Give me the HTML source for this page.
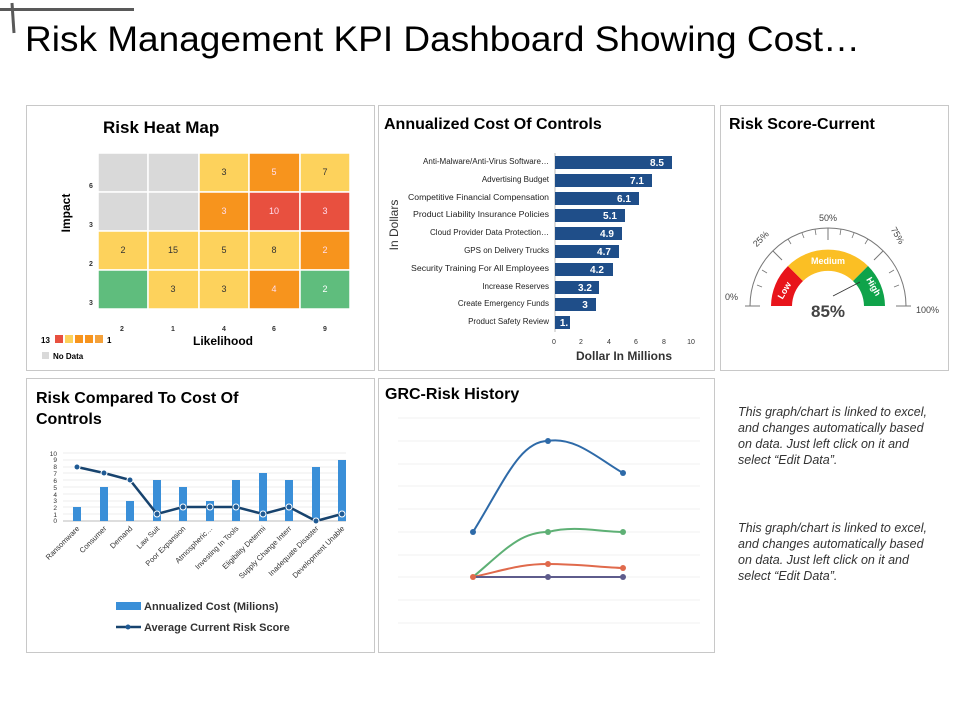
<!DOCTYPE html>
<html><head><meta charset="utf-8"><style>
body{margin:0;background:#fff}
svg{display:block;font-family:"Liberation Sans",Arial,sans-serif}
</style></head><body>
<svg width="960" height="720" viewBox="0 0 960 720" xmlns="http://www.w3.org/2000/svg">
<rect width="960" height="720" fill="#fff"/>
<line x1="0" y1="9.5" x2="134" y2="9.5" stroke="#595959" stroke-width="3"/>
<line x1="12" y1="3" x2="14" y2="33" stroke="#595959" stroke-width="3"/>
<text x="25" y="51" font-size="35" fill="#000" textLength="835" lengthAdjust="spacingAndGlyphs">Risk Management KPI Dashboard Showing Cost…</text>

<g fill="none" stroke="#c8c8c8" stroke-width="1">
<rect x="26.5" y="105.5" width="348" height="265"/>
<rect x="378.5" y="105.5" width="336" height="265"/>
<rect x="720.5" y="105.5" width="228" height="265"/>
<rect x="26.5" y="378.5" width="348" height="274"/>
<rect x="378.5" y="378.5" width="336" height="274"/>
</g>

<!-- Heat map -->
<text x="103" y="133" font-size="17" font-weight="bold">Risk Heat Map</text>
<g stroke="#fff" stroke-width="1.5">
<rect x="98" y="153" width="50" height="39" fill="#d9d9d9"/>
<rect x="148" y="153" width="51" height="39" fill="#d9d9d9"/>
<rect x="199" y="153" width="50" height="39" fill="#fdd25c"/>
<rect x="249" y="153" width="51" height="39" fill="#f7941d"/>
<rect x="300" y="153" width="50" height="39" fill="#fdd25c"/>
<rect x="98" y="192" width="50" height="39" fill="#d9d9d9"/>
<rect x="148" y="192" width="51" height="39" fill="#d9d9d9"/>
<rect x="199" y="192" width="50" height="39" fill="#f7941d"/>
<rect x="249" y="192" width="51" height="39" fill="#e8503f"/>
<rect x="300" y="192" width="50" height="39" fill="#e8503f"/>
<rect x="98" y="231" width="50" height="39" fill="#fdd25c"/>
<rect x="148" y="231" width="51" height="39" fill="#fdd25c"/>
<rect x="199" y="231" width="50" height="39" fill="#fdd25c"/>
<rect x="249" y="231" width="51" height="39" fill="#fdd25c"/>
<rect x="300" y="231" width="50" height="39" fill="#f7941d"/>
<rect x="98" y="270" width="50" height="39" fill="#5fbd7d"/>
<rect x="148" y="270" width="51" height="39" fill="#fdd25c"/>
<rect x="199" y="270" width="50" height="39" fill="#fdd25c"/>
<rect x="249" y="270" width="51" height="39" fill="#f7941d"/>
<rect x="300" y="270" width="50" height="39" fill="#5fbd7d"/>
</g>
<g font-size="9" text-anchor="middle">
<text x="224" y="175" fill="#333">3</text><text x="274" y="175" fill="#fde">5</text><text x="325" y="175" fill="#333">7</text>
<text x="224" y="214" fill="#fde">3</text><text x="274" y="214" fill="#fde">10</text><text x="325" y="214" fill="#fde">3</text>
<text x="123" y="253" fill="#333">2</text><text x="173" y="253" fill="#333">15</text><text x="224" y="253" fill="#333">5</text><text x="274" y="253" fill="#333">8</text><text x="325" y="253" fill="#fde">2</text>
<text x="173" y="292" fill="#333">3</text><text x="224" y="292" fill="#333">3</text><text x="274" y="292" fill="#fde">4</text><text x="325" y="292" fill="#fff">2</text>
</g>
<g font-size="7" font-weight="bold" text-anchor="middle" fill="#333">
<text x="91" y="188">6</text><text x="91" y="227">3</text><text x="91" y="266">2</text><text x="91" y="305">3</text>
<text x="122" y="331">2</text><text x="173" y="331">1</text><text x="224" y="331">4</text><text x="274" y="331">6</text><text x="325" y="331">9</text>
</g>
<text transform="translate(70,213) rotate(-90)" font-size="12" font-weight="bold" text-anchor="middle">Impact</text>
<text x="223" y="345" font-size="12" font-weight="bold" text-anchor="middle">Likelihood</text>
<text x="41" y="343" font-size="8" font-weight="bold">13</text>
<rect x="55" y="335" width="8" height="8" fill="#e8503f"/>
<rect x="65" y="335" width="8" height="8" fill="#fdd25c"/>
<rect x="75" y="335" width="8" height="8" fill="#f7941d"/>
<rect x="85" y="335" width="8" height="8" fill="#f7941d"/>
<rect x="95" y="335" width="8" height="8" fill="#f4a13a"/>
<text x="107" y="343" font-size="8" font-weight="bold">1</text>
<rect x="42" y="352" width="7" height="7" fill="#d9d9d9"/>
<text x="53" y="359" font-size="8" font-weight="bold">No Data</text>

<!-- Annualized cost -->
<text x="384" y="129" font-size="16" font-weight="bold">Annualized Cost Of Controls</text>
<text transform="translate(398,225) rotate(-90)" font-size="12" text-anchor="middle" fill="#333">In Dollars</text>
<line x1="555" y1="153" x2="555" y2="332" stroke="#bbb"/>
<g fill="#1f4e89">
<rect x="555" y="156" width="117" height="13"/>
<rect x="555" y="174" width="97" height="13"/>
<rect x="555" y="192" width="84" height="13"/>
<rect x="555" y="209" width="70" height="13"/>
<rect x="555" y="227" width="67" height="13"/>
<rect x="555" y="245" width="64" height="13"/>
<rect x="555" y="263" width="58" height="13"/>
<rect x="555" y="281" width="44" height="13"/>
<rect x="555" y="298" width="41" height="13"/>
<rect x="555" y="316" width="15" height="13"/>
</g>
<g font-size="10" font-weight="bold" fill="#fff" text-anchor="middle">
<text x="657" y="166">8.5</text><text x="637" y="184">7.1</text><text x="624" y="202">6.1</text><text x="610" y="219">5.1</text><text x="607" y="237">4.9</text><text x="604" y="255">4.7</text><text x="597" y="273">4.2</text><text x="585" y="291">3.2</text><text x="585" y="308">3</text><text x="564" y="326">1.</text>
</g>
<g font-size="8" fill="#222" text-anchor="end">
<text x="549" y="164" textLength="126" lengthAdjust="spacingAndGlyphs">Anti-Malware/Anti-Virus Software…</text>
<text x="549" y="182">Advertising Budget</text>
<text x="549" y="200" textLength="141" lengthAdjust="spacingAndGlyphs">Competitive Financial Compensation</text>
<text x="549" y="217" textLength="136" lengthAdjust="spacingAndGlyphs">Product Liability Insurance Policies</text>
<text x="549" y="235" textLength="119" lengthAdjust="spacingAndGlyphs">Cloud Provider Data Protection…</text>
<text x="549" y="253">GPS on Delivery Trucks</text>
<text x="549" y="271" textLength="138" lengthAdjust="spacingAndGlyphs">Security Training For All Employees</text>
<text x="549" y="289">Increase Reserves</text>
<text x="549" y="306">Create Emergency Funds</text>
<text x="549" y="324">Product Safety Review</text>
</g>
<g font-size="7" fill="#333" text-anchor="middle">
<text x="554" y="344">0</text><text x="581" y="344">2</text><text x="609" y="344">4</text><text x="636" y="344">6</text><text x="664" y="344">8</text><text x="691" y="344">10</text>
</g>
<text x="624" y="360" font-size="12" font-weight="bold" fill="#333" text-anchor="middle">Dollar In Millions</text>

<!-- Gauge -->
<text x="729" y="129" font-size="16" font-weight="bold">Risk Score-Current</text>
<path d="M750,306 A78,78 0 0 1 906,306" fill="none" stroke="#777" stroke-width="1"/>
<g stroke="#777" stroke-width="1">
<line x1="745" y1="306" x2="760" y2="306"/>
<line x1="896" y1="306" x2="911" y2="306"/>
<line x1="828" y1="228" x2="828" y2="240"/>
<line x1="773" y1="251" x2="782" y2="260"/>
<line x1="883" y1="251" x2="874" y2="260"/>
</g>
<g stroke="#777" stroke-width="0.8">
<line x1="757" y1="285" x2="762" y2="287"/>
<line x1="762" y1="270" x2="767" y2="273"/>
<line x1="788" y1="239" x2="791" y2="244"/>
<line x1="802" y1="233" x2="804" y2="238"/>
<line x1="815" y1="229" x2="816" y2="235"/>
<line x1="841" y1="229" x2="840" y2="235"/>
<line x1="854" y1="233" x2="852" y2="238"/>
<line x1="868" y1="239" x2="865" y2="244"/>
<line x1="894" y1="270" x2="889" y2="273"/>
<line x1="899" y1="285" x2="894" y2="287"/>
</g>
<path d="M771,306 A57,57 0 0 1 788,266 L803,281 A36,36 0 0 0 792,306 Z" fill="#e8141b"/>
<path d="M788,266 A57,57 0 0 1 868,266 L853,281 A36,36 0 0 0 803,281 Z" fill="#fbbf24"/>
<path d="M868,266 A57,57 0 0 1 885,306 L864,306 A36,36 0 0 0 853,281 Z" fill="#0fa34a"/>
<text transform="translate(787,292) rotate(-60)" font-size="9" font-weight="bold" fill="#fff" text-anchor="middle">Low</text>
<text x="828" y="264" font-size="9" font-weight="bold" fill="#fff" text-anchor="middle">Medium</text>
<text transform="translate(871,288) rotate(60)" font-size="9" font-weight="bold" fill="#fff" text-anchor="middle">High</text>
<line x1="833" y1="296" x2="860" y2="282" stroke="#333" stroke-width="0.8"/>
<text x="828" y="317" font-size="17" font-weight="bold" fill="#444" text-anchor="middle">85%</text>
<g font-size="9" fill="#444">
<text x="725" y="300">0%</text>
<text x="916" y="313">100%</text>
<text x="828" y="221" text-anchor="middle">50%</text>
<text transform="translate(763,241) rotate(-45)" text-anchor="middle">25%</text>
<text transform="translate(895,237) rotate(60)" text-anchor="middle">75%</text>
</g>

<!-- Risk compared -->
<text x="36" y="403" font-size="16" font-weight="bold">Risk Compared To Cost Of</text>
<text x="36" y="424" font-size="16" font-weight="bold">Controls</text>
<g stroke="#e6e6e6" stroke-width="0.7">
<line x1="63" y1="453" x2="346" y2="453"/><line x1="63" y1="460" x2="346" y2="460"/><line x1="63" y1="467" x2="346" y2="467"/><line x1="63" y1="473" x2="346" y2="473"/><line x1="63" y1="480" x2="346" y2="480"/><line x1="63" y1="487" x2="346" y2="487"/><line x1="63" y1="494" x2="346" y2="494"/><line x1="63" y1="501" x2="346" y2="501"/><line x1="63" y1="507" x2="346" y2="507"/><line x1="63" y1="514" x2="346" y2="514"/>
</g>
<line x1="63" y1="521" x2="346" y2="521" stroke="#bbb"/>
<g font-size="6.5" fill="#333" text-anchor="end">
<text x="57" y="456">10</text><text x="57" y="462">9</text><text x="57" y="469">8</text><text x="57" y="476">7</text><text x="57" y="483">6</text><text x="57" y="490">5</text><text x="57" y="497">4</text><text x="57" y="503">3</text><text x="57" y="510">2</text><text x="57" y="517">1</text><text x="57" y="523">0</text>
</g>
<g fill="#3a8fd8">
<rect x="73" y="507" width="8" height="14"/>
<rect x="100" y="487" width="8" height="34"/>
<rect x="126" y="501" width="8" height="20"/>
<rect x="153" y="480" width="8" height="41"/>
<rect x="179" y="487" width="8" height="34"/>
<rect x="206" y="501" width="8" height="20"/>
<rect x="232" y="480" width="8" height="41"/>
<rect x="259" y="473" width="8" height="48"/>
<rect x="285" y="480" width="8" height="41"/>
<rect x="312" y="467" width="8" height="54"/>
<rect x="338" y="460" width="8" height="61"/>
</g>
<polyline points="77,467 104,473 130,480 157,514 183,507 210,507 236,507 263,514 289,507 316,521 342,514" fill="none" stroke="#17436e" stroke-width="2.5"/>
<g fill="#1f5a94" stroke="#fff" stroke-width="1">
<circle cx="77" cy="467" r="3"/><circle cx="104" cy="473" r="3"/><circle cx="130" cy="480" r="3"/><circle cx="157" cy="514" r="3"/><circle cx="183" cy="507" r="3"/><circle cx="210" cy="507" r="3"/><circle cx="236" cy="507" r="3"/><circle cx="263" cy="514" r="3"/><circle cx="289" cy="507" r="3"/><circle cx="316" cy="521" r="3"/><circle cx="342" cy="514" r="3"/>
</g>
<g font-size="7.5" fill="#333" text-anchor="end">
<text transform="translate(80,529) rotate(-45)">Ransomware</text>
<text transform="translate(107,529) rotate(-45)">Consumer</text>
<text transform="translate(133,529) rotate(-45)">Demand</text>
<text transform="translate(160,529) rotate(-45)">Law Suit</text>
<text transform="translate(186,529) rotate(-45)">Poor Expansion</text>
<text transform="translate(213,529) rotate(-45)">Atmospheric…</text>
<text transform="translate(239,529) rotate(-45)">Investing In Tools</text>
<text transform="translate(266,529) rotate(-45)">Eligibility Determi</text>
<text transform="translate(292,529) rotate(-45)">Supply Change Interr</text>
<text transform="translate(319,529) rotate(-45)">Inadequate Disaster</text>
<text transform="translate(345,529) rotate(-45)">Development Unable</text>
</g>
<rect x="116" y="602" width="25" height="8" fill="#3a8fd8"/>
<text x="144" y="610" font-size="11" font-weight="bold" fill="#333">Annualized Cost (Milions)</text>
<line x1="116" y1="627" x2="141" y2="627" stroke="#17436e" stroke-width="2.5"/>
<circle cx="128" cy="627" r="2.5" fill="#1f5a94"/>
<text x="144" y="631" font-size="11" font-weight="bold" fill="#333">Average Current Risk Score</text>

<!-- GRC -->
<text x="385" y="399" font-size="16" font-weight="bold">GRC-Risk History</text>
<g stroke="#ececec" stroke-width="0.8">
<line x1="398" y1="418" x2="700" y2="418"/><line x1="398" y1="441" x2="700" y2="441"/><line x1="398" y1="464" x2="700" y2="464"/><line x1="398" y1="486" x2="700" y2="486"/><line x1="398" y1="509" x2="700" y2="509"/><line x1="398" y1="532" x2="700" y2="532"/><line x1="398" y1="555" x2="700" y2="555"/><line x1="398" y1="577" x2="700" y2="577"/><line x1="398" y1="600" x2="700" y2="600"/><line x1="398" y1="623" x2="700" y2="623"/>
</g>
<path d="M473,532 C505,480 520,441 548,441 C575,436 600,460 623,473" fill="none" stroke="#2e6aa8" stroke-width="2"/>
<path d="M473,577 C505,550 520,532 548,532 C575,525 600,532 623,532" fill="none" stroke="#5eb075" stroke-width="2"/>
<path d="M473,577 C505,570 520,564 548,564 C575,564 600,567 623,568" fill="none" stroke="#e06a4c" stroke-width="2"/>
<line x1="473" y1="577" x2="623" y2="577" stroke="#5e5c8c" stroke-width="2"/>
<g fill="#2e6aa8"><circle cx="473" cy="532" r="3"/><circle cx="548" cy="441" r="3"/><circle cx="623" cy="473" r="3"/></g>
<g fill="#5eb075"><circle cx="548" cy="532" r="3"/><circle cx="623" cy="532" r="3"/></g>
<g fill="#e06a4c"><circle cx="548" cy="564" r="3"/><circle cx="623" cy="568" r="3"/><circle cx="473" cy="577" r="3"/></g>
<g fill="#5e5c8c"><circle cx="548" cy="577" r="3"/><circle cx="623" cy="577" r="3"/></g>

<!-- Notes -->
<g font-size="12.5" font-style="italic" fill="#333">
<text x="738" y="416">This graph/chart is linked to excel,</text>
<text x="738" y="432">and changes automatically based</text>
<text x="738" y="448">on data. Just left click on it and</text>
<text x="738" y="464">select “Edit Data”.</text>
<text x="738" y="532">This graph/chart is linked to excel,</text>
<text x="738" y="548">and changes automatically based</text>
<text x="738" y="564">on data. Just left click on it and</text>
<text x="738" y="580">select “Edit Data”.</text>
</g>
</svg>
</body></html>
